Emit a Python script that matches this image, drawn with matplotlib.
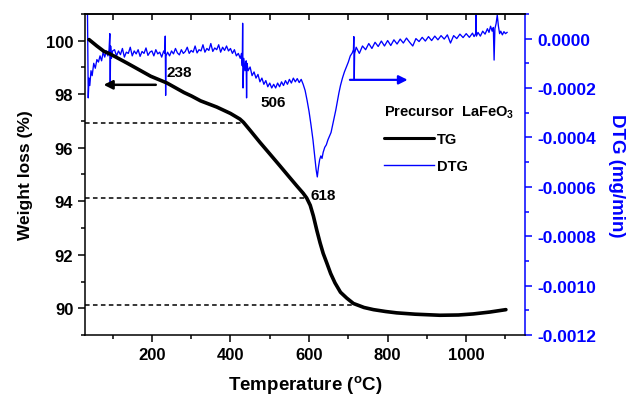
import matplotlib
matplotlib.use("Agg")
import matplotlib.pyplot as plt
from matplotlib.ticker import MultipleLocator, FuncFormatter
import numpy as np

plt.rcParams["font.family"] = ["Liberation Sans", "DejaVu Sans"]
plt.rcParams["font.weight"] = "bold"
plt.rcParams["axes.unicode_minus"] = False
plt.rcParams["mathtext.fontset"] = "custom"
plt.rcParams["mathtext.rm"] = "Liberation Sans:bold"
plt.rcParams["mathtext.bf"] = "Liberation Sans:bold"

# TG curve (weight %)
tg_temp = [40, 60, 78, 94, 137, 153, 197, 238, 282, 301, 324, 365, 400, 424, 433,
           450, 475, 500, 526, 550, 569, 585, 594, 603, 611, 620, 628, 636, 645,
           655, 666, 680, 696, 713, 740, 764, 795, 823, 870, 933, 980, 1018, 1060, 1101]
tg_weight = [100.04, 99.80, 99.60, 99.50, 99.16, 99.03, 98.67, 98.42, 98.06, 97.93,
             97.75, 97.52, 97.28, 97.07, 96.95, 96.65, 96.20, 95.77, 95.32, 94.90,
             94.57, 94.30, 94.12, 93.85, 93.45, 92.90, 92.45, 92.05, 91.70, 91.30,
             90.95, 90.60, 90.38, 90.18, 90.03, 89.95, 89.88, 89.83, 89.78, 89.74,
             89.75, 89.79, 89.86, 89.95]

# DTG curve, in units of 1e-4 mg/min (each line of the two lists pairs up)
dtg_temp = [36, 37, 38, 40, 42, 45, 48, 52, 56, 60, 64, 68,
            72, 76, 80, 84, 88, 91, 93, 94, 95, 97, 100,
            105, 110, 115, 120, 125, 130, 135, 140, 145, 150, 155, 160, 165,
            170, 175, 180, 185, 190, 195, 200, 205, 210, 215, 220, 225, 230,
            233, 234, 235, 236,
            240, 245, 250, 255, 260, 265, 270, 275, 280, 285, 290, 295, 300,
            305, 310, 315, 320, 325, 330, 335, 340, 345, 350, 355, 360, 365,
            370, 375, 380, 385, 390, 395, 400, 405, 410, 415, 420, 425,
            428, 430, 431, 432, 434, 437, 440, 441, 442, 445, 450, 455,
            460, 465, 470, 475, 480, 485, 490, 495, 500, 505, 510, 515, 520,
            525, 530, 535, 540, 545, 550, 555, 560, 565, 570, 575, 580, 585,
            590, 595, 600, 605, 610, 614, 618, 621, 624, 627, 630, 633,
            636, 640, 644, 648, 652, 656, 660, 664, 668, 672, 676, 680,
            685, 690, 695, 700, 705, 710, 713, 714, 715, 716,
            720, 728, 736, 744, 752, 760, 768, 776, 784, 792, 800, 808, 816,
            824, 832, 840, 848, 856, 864, 872, 880, 888, 896, 904, 912, 920,
            928, 936, 944, 952, 960, 968, 976, 984, 992, 1000, 1008, 1016,
            1020, 1024, 1025, 1026, 1030, 1036, 1042, 1048, 1054, 1058, 1062, 1066,
            1069, 1071, 1073, 1076, 1079, 1082, 1085, 1088, 1092, 1096, 1100, 1104]
dtg_value = [1.2, -0.5, -2.4, -1.6, -1.9, -1.3, -1.5, -1.0, -1.2, -0.85, -0.95, -0.7,
             -0.9, -0.55, -0.75, -0.5, -0.7, -0.45, 0.2, -1.8, -0.3, -0.8, -0.5,
             -0.45, -0.7, -0.5, -0.65, -0.4, -0.75, -0.55, -0.6, -0.35, -0.7, -0.5, -0.62, -0.45,
             -0.72, -0.52, -0.6, -0.38, -0.68, -0.55, -0.5, -0.7, -0.45, -0.62, -0.55, -0.75, -0.5,
             -0.6, 0.1, -2.3, -0.7,
             -0.55, -0.7, -0.5, -0.62, -0.4, -0.58, -0.66, -0.45, -0.6, -0.52, -0.35, -0.6, -0.48,
             -0.55, -0.3, -0.58, -0.45, -0.5, -0.25, -0.55, -0.4, -0.48, -0.2, -0.52, -0.38, -0.45,
             -0.25, -0.55, -0.35, -0.48, -0.3, -0.5, -0.4, -0.6, -0.45, -0.7, -0.6, -0.8,
             -0.6, -1.1, 0.62, -2.0, -0.8, -1.3, -0.9, -2.4, -1.0, -1.3, -1.15, -1.5,
             -1.35, -1.6, -1.45, -1.75, -1.6, -1.85, -1.7, -1.95, -1.8, -2.0, -1.85, -2.0, -1.8,
             -1.95, -1.75, -1.9, -1.7, -1.85, -1.65, -1.8, -1.6, -1.75, -1.62, -1.78, -1.65, -1.85,
             -2.1, -2.5, -2.95, -3.5, -4.1, -4.7, -5.3, -5.6, -5.2, -4.9, -4.75, -4.85,
             -4.6, -4.4, -4.3, -4.1, -3.95, -3.8, -3.5, -3.2, -2.9, -2.55, -2.2, -1.9,
             -1.6, -1.35, -1.15, -0.95, -0.7, -0.58, -0.45, 0.08, -1.67, -0.6,
             -0.35, -0.6, -0.3, -0.45, -0.2, -0.4, -0.15, -0.32, -0.1, -0.3, -0.08, -0.28, -0.05,
             -0.22, -0.02, -0.18, 0.02, -0.15, -0.3, 0.0, -0.12, 0.05, -0.1, 0.08, -0.08, 0.1,
             -0.05, 0.12, -0.02, 0.15, -0.18, 0.12, 0.0, 0.18, 0.04, 0.2, 0.05, 0.22,
             0.08, 0.2, 0.95, 0.1, 0.25, 0.1, 0.3, 0.18, 0.4, 0.25, 0.5, 0.3,
             0.45, -0.87, 0.4, 0.6, 0.95, 0.5, 0.2, 0.3, 0.15, 0.28, 0.2, 0.25]
assert len(dtg_temp) == len(dtg_value)

# dashed guide levels and where they meet the TG curve
guide_levels = [96.94, 94.11, 90.12]
guide_ends = [430, 596, 710]

peaks = ["238", "506", "618"]

blue = "#0000ff"

fig = plt.figure(figsize=(6.35, 4.02), dpi=100)
ax = fig.add_axes([0.134, 0.164, 0.693, 0.799])
ax2 = ax.twinx()
ax.set_zorder(ax2.get_zorder() + 1)
ax.patch.set_visible(False)

dtg_line, = ax2.plot(dtg_temp, np.array(dtg_value) * 1e-4, color=blue, lw=0.95)
tg_line, = ax.plot(tg_temp, tg_weight, color="black", lw=2.6, solid_capstyle="round")

for level, end in zip(guide_levels, guide_ends):
    ax.hlines(level, 30, end, colors="black", linestyles=(0, (3, 2.2)), lw=1.1)

ax.set_xlim(30, 1150)
ax.set_ylim(89, 101)
ax2.set_ylim(-0.0012, 0.0001)

ax.xaxis.set_major_locator(MultipleLocator(200))
ax.xaxis.set_minor_locator(MultipleLocator(100))
ax.yaxis.set_major_locator(MultipleLocator(2))
ax.yaxis.set_minor_locator(MultipleLocator(1))
ax2.yaxis.set_major_locator(MultipleLocator(0.0002))
ax2.yaxis.set_minor_locator(MultipleLocator(0.0001))
ax2.yaxis.set_major_formatter(FuncFormatter(lambda v, p: f"{round(v, 6) + 0.0:.4f}"))

ax.tick_params(which="both", direction="out", width=1.1, labelsize=12)
ax.tick_params(which="major", length=5)
ax.tick_params(which="minor", length=3)
ax2.tick_params(which="both", direction="out", width=1.1, colors=blue, labelsize=12.5)
ax2.tick_params(which="major", length=5)
ax2.tick_params(which="minor", length=3)

top = ax.secondary_xaxis("top")
top.xaxis.set_major_locator(MultipleLocator(200))
top.xaxis.set_minor_locator(MultipleLocator(100))
top.tick_params(which="both", direction="in", length=4, width=1.1, labeltop=False)
top.spines["top"].set_linewidth(1.1)

for side in ["left", "bottom", "top"]:
    ax.spines[side].set_linewidth(1.1)
ax.spines["right"].set_visible(False)
ax2.spines["right"].set_color(blue)
ax2.spines["right"].set_linewidth(1.1)
for side in ["left", "bottom", "top"]:
    ax2.spines[side].set_visible(False)

ax.set_xlabel(r"Temperature ($^\mathbf{o}$C)", fontsize=13.5, fontweight="bold", labelpad=8)
ax.set_ylabel("Weight loss (%)", fontsize=12.5, fontweight="bold", labelpad=9)
ax2.set_ylabel("DTG (mg/min)", fontsize=13.5, fontweight="bold", color=blue,
               rotation=270, labelpad=21)

# peak labels
ax.text(236, 98.83, peaks[0], fontsize=11, ha="left", va="center")
ax.text(508, 97.69, peaks[1], fontsize=11, ha="center", va="center")
ax.text(603, 94.22, peaks[2], fontsize=11, ha="left", va="center")

# arrows pointing to each curve's axis
ax.annotate("", xy=(70, 98.35), xytext=(217, 98.35),
            arrowprops=dict(arrowstyle="-|>", color="black", lw=1.8, mutation_scale=13))
ax2.annotate("", xy=(858, -1.67e-4), xytext=(697, -1.67e-4),
             arrowprops=dict(arrowstyle="-|>", color=blue, lw=1.6, mutation_scale=13))

leg = ax.legend([tg_line, dtg_line], ["TG", "DTG"], title=r"Precursor  LaFeO$_\mathbf{3}$",
                loc="upper left", bbox_to_anchor=(0.667, 0.74), frameon=False,
                fontsize=10.5, title_fontsize=10.5, handlelength=3.4, handletextpad=0.2,
                labelspacing=0.85, borderaxespad=0, alignment="left")
leg.get_title().set_fontweight("bold")
leg.get_lines()[0].set_linewidth(2.2)
leg.get_lines()[1].set_linewidth(1.0)

fig.savefig("out.png", dpi=100)
